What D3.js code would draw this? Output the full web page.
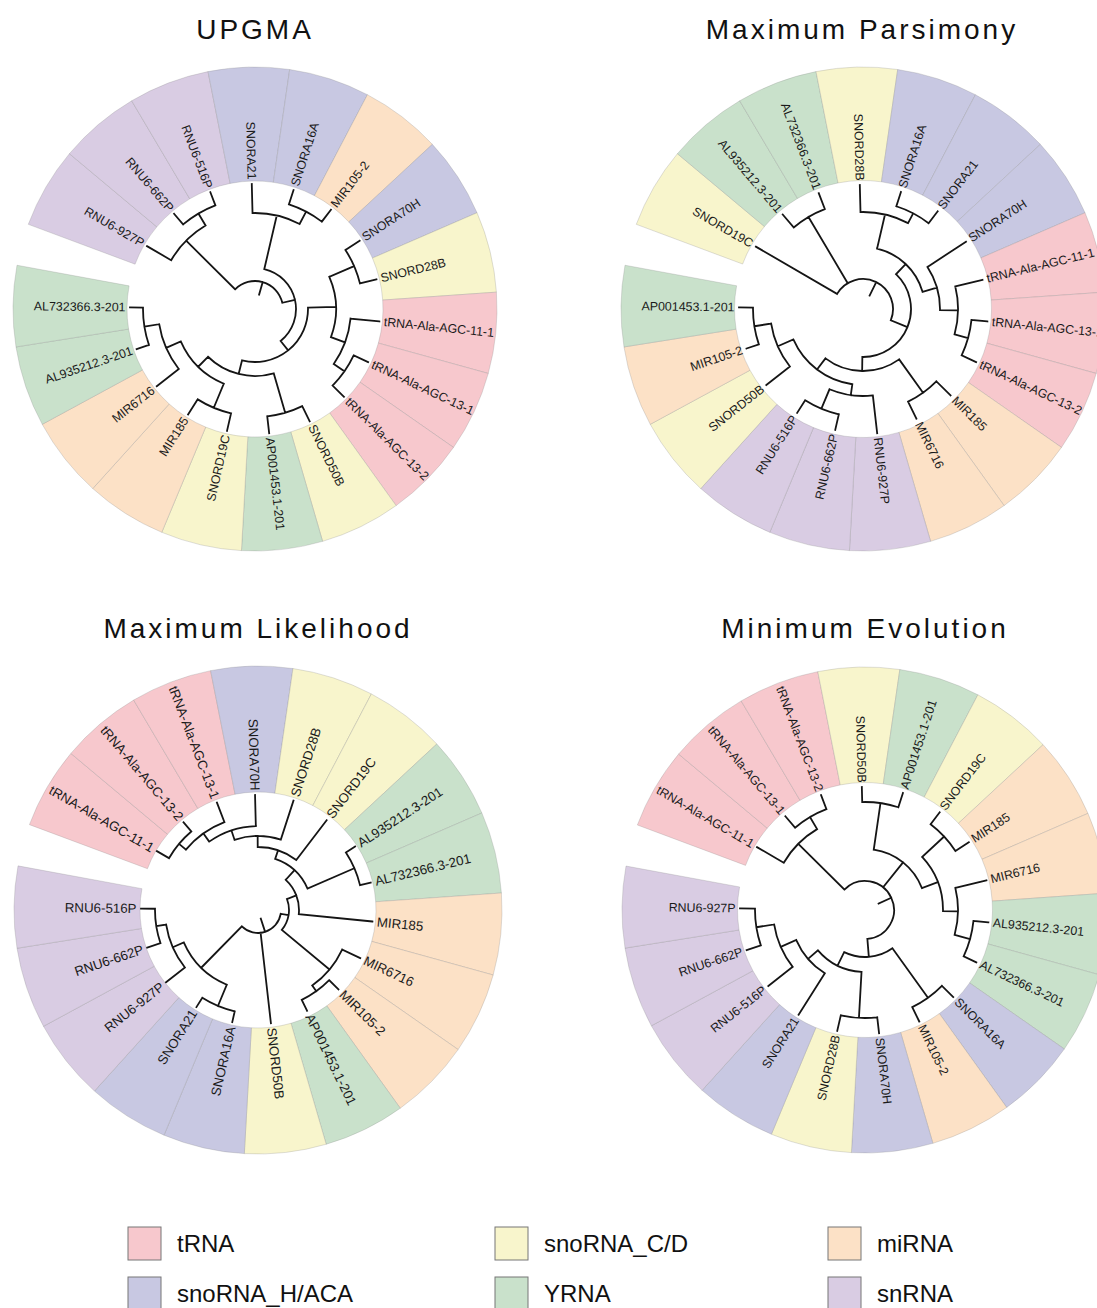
<!DOCTYPE html>
<html>
<head>
<meta charset="utf-8">
<script src="https://cdn.jsdelivr.net/npm/d3@7"></script>
<style>
  body { margin: 0; background: #ffffff; }
  text { font-family: "Liberation Sans", Arial, Helvetica, sans-serif; }
</style>
</head>
<body>
<svg id="chart" width="1097" height="1308"></svg>
<script>
// ---------------- DATA ----------------
const rnaNames = [
  "tRNA-Ala-AGC-11-1", "tRNA-Ala-AGC-13-1", "tRNA-Ala-AGC-13-2",
  "SNORD28B", "SNORD19C", "SNORD50B",
  "MIR105-2", "MIR185", "MIR6716",
  "SNORA21", "SNORA16A", "SNORA70H",
  "AL732366.3-201", "AL935212.3-201", "AP001453.1-201",
  "RNU6-927P", "RNU6-662P", "RNU6-516P"
];
const rnaTypes = [
  "tRNA", "tRNA", "tRNA",
  "snoRNA_C/D", "snoRNA_C/D", "snoRNA_C/D",
  "miRNA", "miRNA", "miRNA",
  "snoRNA_H/ACA", "snoRNA_H/ACA", "snoRNA_H/ACA",
  "YRNA", "YRNA", "YRNA",
  "snRNA", "snRNA", "snRNA"
];
const typeNames  = ["tRNA", "snoRNA_C/D", "miRNA", "snoRNA_H/ACA", "YRNA", "snRNA"];
const typeColors = ["#F7C8CD", "#F8F5CC", "#FCE1C6", "#C8C8E2", "#C9E1CB", "#D9CCE3"];

const treeTitles = ["UPGMA", "Maximum Parsimony", "Maximum Likelihood", "Minimum Evolution"];

// Trees (Newick, branch lengths)
const upgmaNewick = "((RNU6-927P:0.28,(RNU6-662P:0.14,RNU6-516P:0.14):0.14):0.69,((SNORA21:0.29,(SNORA16A:0.15,MIR105-2:0.15):0.14):0.55,(((SNORA70H:0.17,SNORD28B:0.17):0.27,(tRNA-Ala-AGC-11-1:0.29,(tRNA-Ala-AGC-13-1:0.16,tRNA-Ala-AGC-13-2:0.16):0.13):0.15):0.28,((SNORD50B:0.17,AP001453.1-201:0.17):0.41,((SNORD19C:0.18,MIR185:0.18):0.26,(MIR6716:0.28,(AL935212.3-201:0.13,AL732366.3-201:0.13):0.15):0.16):0.14):0.14):0.12):0.13);";
const mpNewick = "(SNORD19C:0.94,(AL935212.3-201:0.17,AL732366.3-201:0.17):0.77,(((SNORD28B:0.27,(SNORA16A:0.15,SNORA21:0.15):0.11):0.35,(SNORA70H:0.46,(tRNA-Ala-AGC-11-1:0.28,(tRNA-Ala-AGC-13-1:0.16,tRNA-Ala-AGC-13-2:0.16):0.14):0.18):0.15):0.14,((MIR185:0.20,MIR6716:0.19):0.41,((RNU6-927P:0.38,(RNU6-662P:0.16,RNU6-516P:0.15):0.21):0.11,(SNORD50B:0.30,(MIR105-2:0.13,AP001453.1-201:0.14):0.17):0.17):0.14):0.14):0.18);";
const mlNewick = "(((((((((tRNA-Ala-AGC-11-1:0.14,tRNA-Ala-AGC-13-2:0.12):0.09,tRNA-Ala-AGC-13-1:0.21):0.10,SNORA70H:0.31):0.10,SNORD28B:0.41):0.11,SNORD19C:0.50):0.09,(AL935212.3-201:0.11,AL732366.3-201:0.11):0.51):0.13,MIR185:0.74):0.10,(MIR6716:0.20,(MIR105-2:0.13,AP001453.1-201:0.12):0.07):0.62):0.08,SNORD50B:0.91,((SNORA16A:0.11,SNORA21:0.11):0.23,(RNU6-927P:0.24,(RNU6-662P:0.14,RNU6-516P:0.14):0.10):0.12):0.58);";
const meNewick = "((tRNA-Ala-AGC-11-1:0.31,(tRNA-Ala-AGC-13-1:0.15,tRNA-Ala-AGC-13-2:0.15):0.14):0.65,((SNORD50B:0.15,AP001453.1-201:0.15):0.47,((SNORD19C:0.15,MIR185:0.16):0.30,(MIR6716:0.32,(AL935212.3-201:0.15,AL732366.3-201:0.14):0.16):0.15):0.17):0.32,((SNORA16A:0.16,MIR105-2:0.16):0.61,((SNORA70H:0.16,SNORD28B:0.16):0.46,(SNORA21:0.49,(RNU6-516P:0.31,(RNU6-662P:0.15,RNU6-927P:0.15):0.18):0.17):0.13):0.15):0.18);";
const treeNewicks = [upgmaNewick, mpNewick, mlNewick, meNewick];
const rootEdges = [0.13, 0.15, 0.14, 0.14];

// ---------------- LAYOUT ----------------
const panels = [
  { cx: 255, cy: 309, r0: 28, inner: 128, outer: 242, font: 12.4, tx: 255, ty: 39 },
  { cx: 863, cy: 309, r0: 30, inner: 128.5, outer: 242, font: 12.4, tx: 862, ty: 39 },
  { cx: 258, cy: 910, r0: 23, inner: 118, outer: 244, font: 13.3, tx: 258, ty: 638 },
  { cx: 865, cy: 910, r0: 29, inner: 127.5, outer: 243, font: 12.4, tx: 865, ty: 638 }
];
const firstAngle = 149.8, lastAngle = -180.7; // math degrees, open fan

function parseNewick(s) {
  let i = 0;
  function node() {
    const n = { children: [] };
    if (s[i] === "(") {
      i++;
      n.children.push(node());
      while (s[i] === ",") { i++; n.children.push(node()); }
      i++;
    }
    let name = "";
    while (i < s.length && !",():;".includes(s[i])) name += s[i++];
    n.name = name.trim();
    n.length = 0;
    if (s[i] === ":") {
      i++;
      let num = "";
      while (i < s.length && !",();".includes(s[i])) num += s[i++];
      n.length = +num;
    }
    if (!n.children.length) delete n.children;
    return n;
  }
  return node();
}

const colorOf = d3.scaleOrdinal().domain(typeNames).range(typeColors);
const typeOf = new Map(rnaNames.map((n, k) => [n, rnaTypes[k]]));
const rad = Math.PI / 180;

const svg = d3.select("#chart");

treeNewicks.forEach((nw, t) => {
  const P = panels[t];
  const root = d3.hierarchy(parseNewick(nw));
  root.eachBefore(d => { d.dist = d.parent ? d.parent.dist + d.data.length : 0; });
  const leaves = root.leaves();
  const angle = d3.scaleLinear().domain([0, leaves.length - 1]).range([firstAngle, lastAngle]);
  const step = Math.abs(angle(1) - angle(0));
  leaves.forEach((d, k) => { d.angle = angle(k); });
  root.eachAfter(d => {
    if (d.children) d.angle = (d.children[0].angle + d.children[d.children.length - 1].angle) / 2;
  });
  const rs = d3.scaleLinear().domain([0, 1]).range([P.r0, P.r0 + 100]);
  const xy = (r, a) => [r * Math.cos(a * rad), -r * Math.sin(a * rad)];

  const g = svg.append("g").attr("transform", `translate(${P.cx},${P.cy})`);

  // coloured wedges
  const arcGen = d3.arc().innerRadius(P.inner).outerRadius(P.outer);
  g.append("g").selectAll("path").data(leaves).join("path")
    .attr("d", d => arcGen({ startAngle: (90 - d.angle - step / 2) * rad, endAngle: (90 - d.angle + step / 2) * rad }))
    .attr("fill", d => colorOf(typeOf.get(d.data.name)))
    .attr("stroke", "rgba(140,140,140,0.35)")
    .attr("stroke-width", 0.8);

  // tree branches
  const p = d3.path();
  root.descendants().forEach(d => {
    if (d.parent) {
      const [x0, y0] = xy(rs(d.parent.dist), d.angle);
      const [x1, y1] = xy(rs(d.dist), d.angle);
      p.moveTo(x0, y0); p.lineTo(x1, y1);
    } else {
      const [x0, y0] = xy(rs(-rootEdges[t]), d.angle);
      const [x1, y1] = xy(rs(0), d.angle);
      p.moveTo(x0, y0); p.lineTo(x1, y1);
    }
    if (d.children) {
      const a0 = d.children[0].angle, a1 = d.children[d.children.length - 1].angle;
      const r = rs(d.dist);
      const [sx, sy] = xy(r, a0);
      p.moveTo(sx, sy);
      p.arc(0, 0, r, -a0 * rad, -a1 * rad, false);
    }
  });
  g.append("path").attr("d", p.toString())
    .attr("fill", "none").attr("stroke", "#151515")
    .attr("stroke-width", 1.8).attr("stroke-linecap", "square");

  // tip labels
  g.append("g").selectAll("text").data(leaves).join("text")
    .attr("transform", d => {
      const flip = d.angle > 90 || d.angle < -90;
      return `rotate(${-d.angle}) translate(${rs(d.dist) + 4.5},0)` + (flip ? " rotate(180)" : "");
    })
    .attr("text-anchor", d => (d.angle > 90 || d.angle < -90) ? "end" : "start")
    .attr("dominant-baseline", "central")
    .attr("font-size", P.font)
    .attr("fill", "#1a1a1a")
    .text(d => d.data.name);

  // title
  svg.append("text")
    .attr("x", P.tx).attr("y", P.ty)
    .attr("text-anchor", "middle")
    .attr("font-size", 28)
    .attr("letter-spacing", 3)
    .attr("fill", "#111")
    .text(treeTitles[t]);
});

// ---------------- LEGEND ----------------
const legendCols = [128, 495, 828];
const legendRows = [1227, 1277];
const lg = svg.append("g");
typeNames.forEach((name, k) => {
  const x = legendCols[k % 3], y = legendRows[Math.floor(k / 3)];
  lg.append("rect").attr("x", x).attr("y", y).attr("width", 33).attr("height", 33)
    .attr("fill", colorOf(name)).attr("stroke", "#777").attr("stroke-width", 1);
  lg.append("text").attr("x", x + 49).attr("y", y + 25)
    .attr("font-size", 24).attr("fill", "#111").text(name);
});
</script>
</body>
</html>
